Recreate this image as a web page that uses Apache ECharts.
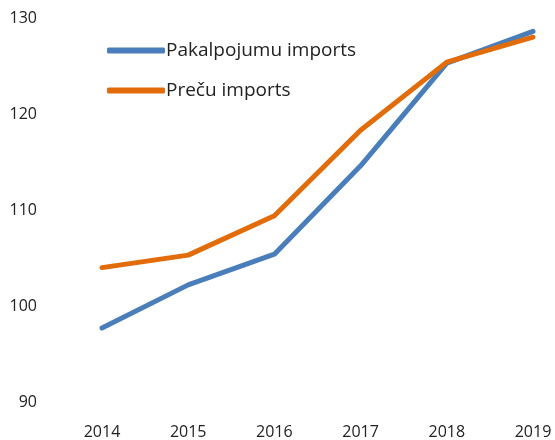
<!DOCTYPE html>
<html>
<head>
<meta charset="utf-8">
<script src="https://cdn.jsdelivr.net/npm/echarts@6/dist/echarts.min.js"></script>
<style>
  html, body { margin: 0; padding: 0; background: #fff; }
  #chart { width: 555px; height: 440px; }
</style>
</head>
<body>
<div id="chart"></div>
<script>
const years = ["2014", "2015", "2016", "2017", "2018", "2019"];
const servicesName = "Pakalpojumu imports";
const goodsName = "Preču imports";
const services = [97.7, 102.2, 105.4, 114.6, 125.3, 128.6];
const goods = [104.0, 105.3, 109.4, 118.3, 125.4, 128.0];

const chart = echarts.init(document.getElementById("chart"));
const font = "'Open Sans', 'Noto Sans', sans-serif";

chart.setOption({
  animation: false,
  color: ["#4A7EBB", "#E36C0A"],
  textStyle: { fontFamily: font },
  grid: { left: 102, right: 22, top: 18, bottom: 38 },
  legend: {
    orient: "vertical",
    left: 102,
    top: 36,
    itemGap: 21,
    itemWidth: 58,
    itemHeight: 6,
    icon: "roundRect",
    textStyle: { fontSize: 19, color: "#222", fontFamily: font, padding: [0, 0, 0, -4] },
    data: [servicesName, goodsName]
  },
  xAxis: {
    type: "category",
    data: years,
    boundaryGap: false,
    axisLine: { show: false },
    axisTick: { show: false },
    splitLine: { show: false },
    axisLabel: { fontSize: 16, color: "#222", margin: 22 }
  },
  yAxis: {
    type: "value",
    min: 90,
    max: 130,
    interval: 10,
    axisLine: { show: false },
    axisTick: { show: false },
    splitLine: { show: false },
    axisLabel: { fontSize: 16, color: "#222", margin: 65 }
  },
  series: [
    {
      name: servicesName,
      type: "line",
      data: services,
      showSymbol: false,
      lineStyle: { width: 5, cap: "round", join: "round" }
    },
    {
      name: goodsName,
      type: "line",
      data: goods,
      showSymbol: false,
      lineStyle: { width: 5, cap: "round", join: "round" }
    }
  ]
});
</script>
</body>
</html>
